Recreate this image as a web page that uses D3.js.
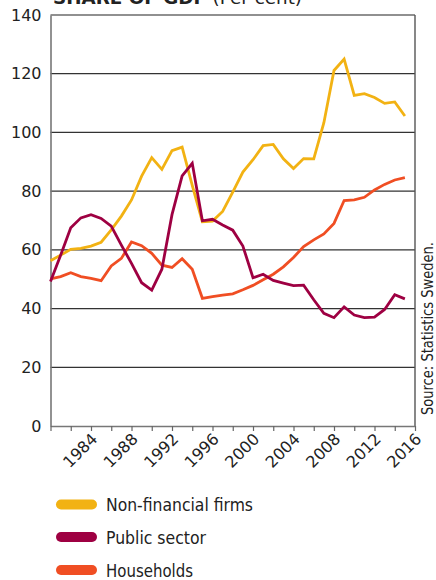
<!DOCTYPE html>
<html>
<head>
<meta charset="utf-8">
<script src="https://cdn.jsdelivr.net/npm/d3@7"></script>
<style>
  html, body { margin: 0; padding: 0; background: #fff; }
  svg { display: block; }
</style>
</head>
<body>
<svg id="chart" width="436" height="580"></svg>
<script>
const years = d3.range(1980, 2016);
const nonFinancialFirms = [56.3, 58.2, 60.2, 60.5, 61.3, 62.6, 66.8, 71.5, 77.0, 85.1, 91.4, 87.4, 93.8, 95.0, 82.0, 69.6, 69.8, 73.1, 79.7, 86.5, 90.7, 95.5, 95.9, 91.0, 87.7, 91.1, 91.0, 103.3, 121.1, 125.0, 112.6, 113.2, 111.9, 109.9, 110.4, 105.6];
const publicSector = [49.2, 58.2, 67.5, 70.9, 72.0, 70.7, 68.1, 61.6, 55.4, 48.8, 46.3, 53.4, 72.0, 85.2, 89.5, 69.9, 70.4, 68.5, 66.7, 61.3, 50.5, 51.7, 49.6, 48.7, 47.8, 48.0, 43.0, 38.4, 36.9, 40.6, 37.8, 36.9, 37.1, 39.7, 44.7, 43.3];
const households = [50.1, 50.9, 52.2, 50.9, 50.3, 49.5, 54.5, 57.1, 62.7, 61.4, 58.8, 54.8, 54.0, 57.0, 53.4, 43.5, 44.1, 44.6, 45.0, 46.4, 47.9, 49.8, 51.7, 54.2, 57.4, 61.1, 63.4, 65.4, 69.0, 76.8, 77.0, 77.9, 80.4, 82.3, 83.8, 84.6];
const seriesNames = ["Non-financial firms", "Public sector", "Households"];
const seriesColors = ["#F2B213", "#9E0042", "#F04E23"];
const yTicks = [0, 20, 40, 60, 80, 100, 120, 140];
const xTickYears = d3.range(1980, 2017, 2);
const xLabelYears = [1984, 1988, 1992, 1996, 2000, 2004, 2008, 2012, 2016];
const titleMain = "SHARE OF GDP";
const titleSub = " (Per cent)";
const sourceText = "Source: Statistics Sweden.";

const svg = d3.select("#chart");
const L = 50.5, R = 415, T = 15, B = 426;
const x = d3.scaleLinear().domain([1980, 2016]).range([L, R]);
const y = d3.scaleLinear().domain([0, 140]).range([B, T]);

// title (partly above the top edge, as in the reference)
const title = svg.append("text")
  .attr("x", 53).attr("y", 3.5)
  .attr("font-family", "'Liberation Sans Narrow', 'DejaVu Sans Condensed', 'Liberation Sans', sans-serif")
  .attr("font-size", 18).attr("fill", "#222")
  .attr("textLength", 249).attr("lengthAdjust", "spacingAndGlyphs");
title.append("tspan").attr("font-weight", "bold").text(titleMain);
title.append("tspan").text(titleSub);

// gridlines
svg.append("g").selectAll("line").data(yTicks.filter(d => d > 0 && d < 140)).join("line")
  .attr("x1", L).attr("x2", R)
  .attr("y1", d => y(d)).attr("y2", d => y(d))
  .attr("stroke", "#333").attr("stroke-width", 1.2);

// frame top and right
svg.append("line").attr("x1", L).attr("x2", R).attr("y1", T).attr("y2", T)
  .attr("stroke", "#222").attr("stroke-width", 1.2);
svg.append("line").attr("x1", R).attr("x2", R).attr("y1", T).attr("y2", B)
  .attr("stroke", "#555").attr("stroke-width", 1.4);

// left axis
const yAxis = d3.axisLeft(y).tickValues(yTicks).tickSize(0).tickPadding(9).tickFormat(d3.format("d"));
const gy = svg.append("g").attr("transform", `translate(${L},0)`).call(yAxis);
gy.select(".domain").attr("stroke", "#777").attr("stroke-width", 1.6);
gy.selectAll("text").attr("font-family", "'DejaVu Sans', sans-serif").attr("font-size", 16).attr("fill", "#222");

// bottom axis
const xAxis = d3.axisBottom(x).tickValues(xTickYears).tickSize(5).tickSizeOuter(0)
  .tickFormat(d => xLabelYears.includes(d) ? String(d) : "");
const gx = svg.append("g").attr("transform", `translate(0,${B})`).call(xAxis);
gx.select(".domain").attr("stroke", "#777").attr("stroke-width", 1.6);
gx.selectAll(".tick line").attr("stroke", "#666").attr("stroke-width", 1.2);
gx.selectAll("text")
  .attr("font-family", "'DejaVu Sans', sans-serif").attr("font-size", 16).attr("fill", "#222")
  .attr("text-anchor", "end")
  .attr("dy", null).attr("y", null)
  .attr("transform", "translate(7,14) rotate(-45)");

// lines
const allSeries = [nonFinancialFirms, publicSector, households];
const line = d3.line().x((d, i) => x(years[i])).y(d => y(d));
const drawOrder = [0, 2, 1];
svg.append("g").selectAll("path").data(drawOrder).join("path")
  .attr("d", k => line(allSeries[k]))
  .attr("fill", "none")
  .attr("stroke", k => seriesColors[k])
  .attr("stroke-width", 2.8)
  .attr("stroke-linejoin", "miter");

// source text
svg.append("text")
  .attr("transform", "translate(433,415) rotate(-90)")
  .attr("font-family", "'Liberation Sans Narrow', 'DejaVu Sans Condensed', 'Liberation Sans', sans-serif")
  .attr("font-size", 16).attr("fill", "#222")
  .attr("textLength", 173).attr("lengthAdjust", "spacingAndGlyphs")
  .text(sourceText);

// legend
const legendY = [504.5, 537, 570];
const legendW = [147, 100, 87];
const lg = svg.append("g").selectAll("g").data(seriesNames).join("g")
  .attr("transform", (d, i) => `translate(0,${legendY[i]})`);
lg.append("line").attr("x1", 61).attr("x2", 92).attr("y1", 0).attr("y2", 0)
  .attr("stroke", (d, i) => seriesColors[i]).attr("stroke-width", 10).attr("stroke-linecap", "round");
lg.append("text").attr("x", 106).attr("y", 6.5)
  .attr("font-family", "'Liberation Sans Narrow', 'DejaVu Sans Condensed', 'Liberation Sans', sans-serif")
  .attr("font-size", 18).attr("fill", "#222")
  .attr("textLength", (d, i) => legendW[i]).attr("lengthAdjust", "spacingAndGlyphs")
  .text(d => d);
</script>
</body>
</html>
